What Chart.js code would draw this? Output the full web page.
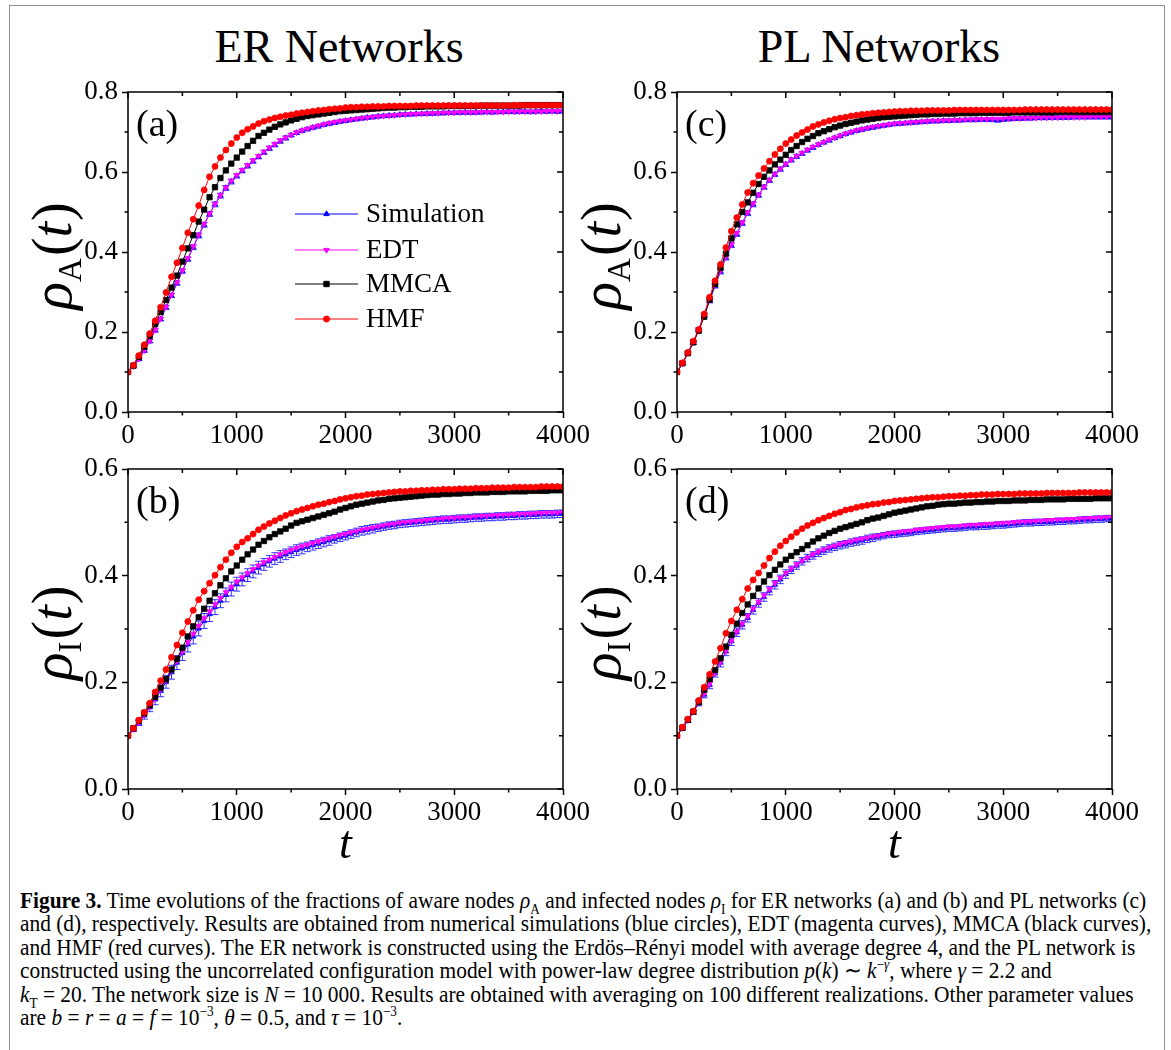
<!DOCTYPE html>
<html>
<head>
<meta charset="utf-8">
<title>Figure 3</title>
<script src="https://cdn.jsdelivr.net/npm/chart.js@4.4.1/dist/chart.umd.min.js"></script>
<style>
    body { margin: 0; background: #fff; }
    #fig { position: relative; width: 1171px; height: 1050px; overflow: hidden; font-family: 'Liberation Serif', serif; color: #000; }
    .frame { position: absolute; left: 9px; top: 5px; width: 1156px; height: 1100px; border: 1px solid #8f8f8f; box-sizing: border-box; }
    .col-title { position: absolute; top: 24px; width: 400px; font-size: 46px; line-height: 46px; text-align: center; }
    canvas { position: absolute; }
    .caption { position: absolute; left: 20px; top: 889px; font-size: 23px; line-height: 23.4px; }
    .caption div { white-space: nowrap; width: max-content; transform-origin: 0 0; }
    .caption sub, .caption sup { font-size: 0.62em; line-height: 0; }
</style>
</head>
<body>
<div id="fig">
    <div class="frame"></div>
    <div class="col-title" style="left:139px">ER Networks</div>
    <div class="col-title" style="left:679px">PL Networks</div>
    <canvas id="panelA"></canvas>
    <canvas id="panelB"></canvas>
    <canvas id="panelC"></canvas>
    <canvas id="panelD"></canvas>
    <div class="caption" id="caption">
        <div><b>Figure 3.</b> Time evolutions of the fractions of aware nodes <i>ρ</i><sub>A</sub> and infected nodes <i>ρ</i><sub>I</sub> for ER networks (a) and (b) and PL networks (c)</div>
        <div>and (d), respectively. Results are obtained from numerical simulations (blue circles), EDT (magenta curves), MMCA (black curves),</div>
        <div>and HMF (red curves). The ER network is constructed using the Erdös–Rényi model with average degree 4, and the PL network is</div>
        <div>constructed using the uncorrelated configuration model with power-law degree distribution <i>p</i>(<i>k</i>) ∼ <i>k</i><sup>−<i>γ</i></sup>, where <i>γ</i> = 2.2 and</div>
        <div><i>k</i><sub>T</sub> = 20. The network size is <i>N</i> = 10 000. Results are obtained with averaging on 100 different realizations. Other parameter values</div>
        <div>are <i>b</i> = <i>r</i> = <i>a</i> = <i>f</i> = 10<sup>−3</sup>, <i>θ</i> = 0.5, and <i>τ</i> = 10<sup>−3</sup>.</div>
    </div>
</div>
<script>
const times = [0, 50, 100, 150, 200, 250, 300, 350, 400, 450,
    500, 550, 600, 650, 700, 750, 800, 850, 900, 950,
    1000, 1050, 1100, 1150, 1200, 1250, 1300, 1350, 1400, 1450,
    1500, 1550, 1600, 1650, 1700, 1750, 1800, 1850, 1900, 1950,
    2000, 2050, 2100, 2150, 2200, 2250, 2300, 2350, 2400, 2450,
    2500, 2550, 2600, 2650, 2700, 2750, 2800, 2850, 2900, 2950,
    3000, 3050, 3100, 3150, 3200, 3250, 3300, 3350, 3400, 3450,
    3500, 3550, 3600, 3650, 3700, 3750, 3800, 3850, 3900, 3950,
    4000];

const seriesNames = ['Simulation', 'EDT', 'MMCA', 'HMF'];
const xTicks = [0, 1000, 2000, 3000, 4000];
const yTicksA = [0.0, 0.2, 0.4, 0.6, 0.8];
const yTicksI = [0.0, 0.2, 0.4, 0.6];

// (a) ER, aware fraction
const simA_ER = [0.100, 0.114, 0.132, 0.153, 0.177, 0.204, 0.232, 0.261, 0.291, 0.322,
    0.352, 0.382, 0.412, 0.441, 0.468, 0.495, 0.519, 0.541, 0.560, 0.576,
    0.590, 0.603, 0.615, 0.627, 0.638, 0.649, 0.659, 0.668, 0.677, 0.685,
    0.692, 0.698, 0.703, 0.707, 0.711, 0.714, 0.718, 0.721, 0.723, 0.726,
    0.728, 0.730, 0.732, 0.734, 0.736, 0.737, 0.739, 0.740, 0.741, 0.742,
    0.743, 0.744, 0.744, 0.745, 0.745, 0.746, 0.746, 0.747, 0.747, 0.748,
    0.748, 0.748, 0.749, 0.748, 0.749, 0.749, 0.750, 0.749, 0.750, 0.750,
    0.751, 0.750, 0.751, 0.751, 0.750, 0.751, 0.752, 0.751, 0.752, 0.751,
    0.752];
const errA_ER = [0.000, 0.002, 0.003, 0.003, 0.004, 0.004, 0.004, 0.005, 0.005, 0.005,
    0.005, 0.005, 0.006, 0.006, 0.006, 0.006, 0.006, 0.006, 0.006, 0.006,
    0.005, 0.005, 0.005, 0.005, 0.005, 0.005, 0.005, 0.005, 0.005, 0.005,
    0.004, 0.004, 0.004, 0.004, 0.004, 0.004, 0.004, 0.004, 0.004, 0.004,
    0.004, 0.004, 0.004, 0.004, 0.004, 0.004, 0.004, 0.004, 0.004, 0.004,
    0.004, 0.004, 0.004, 0.004, 0.004, 0.004, 0.004, 0.004, 0.004, 0.004,
    0.004, 0.004, 0.004, 0.004, 0.004, 0.004, 0.004, 0.004, 0.004, 0.004,
    0.004, 0.004, 0.004, 0.004, 0.004, 0.004, 0.004, 0.004, 0.004, 0.004,
    0.004];
const edtA_ER = [0.100, 0.114, 0.133, 0.154, 0.178, 0.205, 0.233, 0.263, 0.293, 0.324,
    0.354, 0.384, 0.414, 0.443, 0.470, 0.496, 0.520, 0.542, 0.561, 0.578,
    0.592, 0.605, 0.617, 0.629, 0.640, 0.651, 0.661, 0.670, 0.679, 0.686,
    0.693, 0.699, 0.704, 0.708, 0.712, 0.716, 0.719, 0.722, 0.725, 0.727,
    0.729, 0.731, 0.733, 0.735, 0.736, 0.738, 0.739, 0.740, 0.741, 0.742,
    0.743, 0.744, 0.745, 0.745, 0.746, 0.746, 0.747, 0.747, 0.748, 0.748,
    0.748, 0.749, 0.749, 0.749, 0.749, 0.750, 0.750, 0.750, 0.750, 0.750,
    0.751, 0.751, 0.751, 0.751, 0.751, 0.751, 0.751, 0.752, 0.752, 0.752,
    0.752];
const mmcaA_ER = [0.100, 0.116, 0.138, 0.163, 0.190, 0.220, 0.250, 0.280, 0.311, 0.341,
    0.376, 0.409, 0.442, 0.476, 0.506, 0.537, 0.562, 0.585, 0.604, 0.621,
    0.636, 0.651, 0.665, 0.678, 0.690, 0.698, 0.706, 0.713, 0.719, 0.724,
    0.729, 0.733, 0.737, 0.740, 0.742, 0.744, 0.746, 0.748, 0.750, 0.752,
    0.753, 0.754, 0.755, 0.756, 0.757, 0.758, 0.759, 0.760, 0.761, 0.761,
    0.762, 0.762, 0.763, 0.763, 0.763, 0.764, 0.764, 0.764, 0.764, 0.765,
    0.765, 0.765, 0.765, 0.765, 0.765, 0.766, 0.766, 0.766, 0.766, 0.766,
    0.766, 0.766, 0.766, 0.767, 0.767, 0.767, 0.767, 0.767, 0.767, 0.767,
    0.767];
const hmfA_ER = [0.100, 0.117, 0.141, 0.168, 0.196, 0.228, 0.262, 0.299, 0.338, 0.373,
    0.410, 0.448, 0.482, 0.516, 0.555, 0.588, 0.614, 0.636, 0.655, 0.671,
    0.686, 0.698, 0.707, 0.714, 0.721, 0.727, 0.731, 0.735, 0.738, 0.741,
    0.743, 0.746, 0.748, 0.750, 0.752, 0.754, 0.755, 0.757, 0.758, 0.759,
    0.761, 0.762, 0.762, 0.763, 0.763, 0.764, 0.764, 0.764, 0.765, 0.765,
    0.765, 0.765, 0.765, 0.766, 0.766, 0.766, 0.766, 0.766, 0.766, 0.766,
    0.766, 0.766, 0.766, 0.766, 0.766, 0.766, 0.766, 0.766, 0.766, 0.766,
    0.766, 0.767, 0.767, 0.767, 0.767, 0.767, 0.767, 0.767, 0.767, 0.767,
    0.767];

// (b) ER, infected fraction
const simI_ER = [0.100, 0.111, 0.124, 0.138, 0.153, 0.168, 0.184, 0.201, 0.219, 0.237,
    0.255, 0.271, 0.286, 0.301, 0.315, 0.328, 0.341, 0.353, 0.364, 0.375,
    0.384, 0.393, 0.401, 0.408, 0.415, 0.421, 0.427, 0.432, 0.436, 0.440,
    0.444, 0.448, 0.451, 0.454, 0.457, 0.460, 0.463, 0.466, 0.469, 0.472,
    0.475, 0.478, 0.481, 0.484, 0.486, 0.488, 0.490, 0.492, 0.494, 0.495,
    0.497, 0.498, 0.499, 0.500, 0.501, 0.502, 0.503, 0.504, 0.505, 0.505,
    0.506, 0.507, 0.507, 0.508, 0.509, 0.509, 0.510, 0.510, 0.511, 0.511,
    0.512, 0.512, 0.513, 0.513, 0.514, 0.514, 0.515, 0.515, 0.515, 0.516,
    0.516];
const errI_ER = [0.000, 0.003, 0.005, 0.007, 0.008, 0.010, 0.011, 0.012, 0.013, 0.013,
    0.014, 0.014, 0.014, 0.014, 0.014, 0.014, 0.014, 0.013, 0.013, 0.013,
    0.013, 0.012, 0.012, 0.012, 0.012, 0.011, 0.011, 0.011, 0.011, 0.010,
    0.010, 0.010, 0.010, 0.009, 0.009, 0.009, 0.009, 0.009, 0.008, 0.008,
    0.008, 0.008, 0.008, 0.008, 0.008, 0.008, 0.007, 0.007, 0.007, 0.007,
    0.007, 0.007, 0.007, 0.007, 0.007, 0.007, 0.007, 0.007, 0.007, 0.007,
    0.007, 0.007, 0.007, 0.007, 0.007, 0.007, 0.007, 0.007, 0.007, 0.007,
    0.007, 0.007, 0.007, 0.007, 0.007, 0.007, 0.007, 0.007, 0.007, 0.007,
    0.007];
const edtI_ER = [0.100, 0.112, 0.125, 0.139, 0.154, 0.170, 0.187, 0.204, 0.222, 0.240,
    0.258, 0.275, 0.291, 0.306, 0.320, 0.333, 0.346, 0.358, 0.369, 0.379,
    0.389, 0.397, 0.405, 0.412, 0.419, 0.425, 0.430, 0.435, 0.440, 0.444,
    0.448, 0.452, 0.455, 0.458, 0.461, 0.464, 0.467, 0.470, 0.473, 0.476,
    0.478, 0.481, 0.483, 0.486, 0.488, 0.490, 0.492, 0.494, 0.496, 0.497,
    0.499, 0.500, 0.501, 0.502, 0.503, 0.504, 0.505, 0.506, 0.507, 0.508,
    0.508, 0.509, 0.510, 0.510, 0.511, 0.512, 0.512, 0.513, 0.513, 0.514,
    0.514, 0.515, 0.515, 0.516, 0.516, 0.517, 0.517, 0.518, 0.518, 0.518,
    0.519];
const mmcaI_ER = [0.100, 0.114, 0.128, 0.142, 0.157, 0.173, 0.190, 0.206, 0.224, 0.244,
    0.265, 0.286, 0.305, 0.322, 0.338, 0.353, 0.367, 0.382, 0.395, 0.408,
    0.419, 0.430, 0.440, 0.449, 0.458, 0.465, 0.472, 0.478, 0.483, 0.488,
    0.494, 0.499, 0.502, 0.505, 0.508, 0.511, 0.514, 0.517, 0.520, 0.524,
    0.527, 0.530, 0.533, 0.535, 0.537, 0.539, 0.541, 0.542, 0.544, 0.545,
    0.546, 0.547, 0.548, 0.549, 0.550, 0.551, 0.552, 0.552, 0.553, 0.553,
    0.554, 0.554, 0.555, 0.555, 0.556, 0.556, 0.556, 0.557, 0.557, 0.557,
    0.558, 0.558, 0.558, 0.558, 0.559, 0.559, 0.559, 0.559, 0.560, 0.560,
    0.560];
const hmfI_ER = [0.100, 0.114, 0.129, 0.144, 0.161, 0.182, 0.203, 0.224, 0.247, 0.270,
    0.293, 0.314, 0.335, 0.355, 0.371, 0.386, 0.401, 0.416, 0.430, 0.443,
    0.454, 0.463, 0.470, 0.478, 0.486, 0.492, 0.498, 0.503, 0.508, 0.513,
    0.517, 0.521, 0.524, 0.527, 0.530, 0.533, 0.535, 0.538, 0.540, 0.543,
    0.545, 0.547, 0.549, 0.550, 0.552, 0.553, 0.554, 0.555, 0.556, 0.557,
    0.558, 0.558, 0.559, 0.559, 0.560, 0.560, 0.561, 0.561, 0.562, 0.562,
    0.562, 0.563, 0.563, 0.563, 0.564, 0.564, 0.564, 0.565, 0.565, 0.565,
    0.565, 0.566, 0.566, 0.566, 0.566, 0.566, 0.567, 0.567, 0.567, 0.567,
    0.567];

// (c) PL, aware fraction
const simA_PL = [0.100, 0.120, 0.147, 0.173, 0.206, 0.242, 0.278, 0.315, 0.351, 0.386,
    0.417, 0.445, 0.472, 0.497, 0.519, 0.542, 0.562, 0.579, 0.594, 0.607,
    0.619, 0.630, 0.639, 0.646, 0.654, 0.661, 0.668, 0.674, 0.679, 0.685,
    0.690, 0.695, 0.699, 0.703, 0.706, 0.709, 0.711, 0.714, 0.716, 0.718,
    0.720, 0.721, 0.722, 0.723, 0.724, 0.725, 0.726, 0.727, 0.727, 0.728,
    0.728, 0.729, 0.729, 0.730, 0.730, 0.730, 0.731, 0.731, 0.730, 0.729,
    0.731, 0.732, 0.733, 0.733, 0.734, 0.734, 0.735, 0.735, 0.735, 0.736,
    0.736, 0.736, 0.736, 0.737, 0.737, 0.737, 0.737, 0.737, 0.737, 0.737,
    0.737];
const errA_PL = [0.000, 0.002, 0.003, 0.004, 0.004, 0.005, 0.005, 0.005, 0.006, 0.006,
    0.006, 0.006, 0.006, 0.006, 0.006, 0.005, 0.005, 0.005, 0.005, 0.005,
    0.005, 0.005, 0.005, 0.004, 0.004, 0.004, 0.004, 0.004, 0.004, 0.004,
    0.004, 0.004, 0.004, 0.004, 0.004, 0.004, 0.004, 0.004, 0.004, 0.004,
    0.004, 0.004, 0.004, 0.004, 0.004, 0.004, 0.004, 0.004, 0.004, 0.004,
    0.004, 0.004, 0.004, 0.004, 0.004, 0.004, 0.004, 0.004, 0.004, 0.004,
    0.004, 0.004, 0.004, 0.004, 0.004, 0.004, 0.004, 0.004, 0.004, 0.004,
    0.004, 0.004, 0.004, 0.004, 0.004, 0.004, 0.004, 0.004, 0.004, 0.004,
    0.004];
const edtA_PL = [0.100, 0.121, 0.148, 0.175, 0.207, 0.243, 0.280, 0.317, 0.353, 0.388,
    0.419, 0.447, 0.474, 0.499, 0.521, 0.543, 0.563, 0.580, 0.595, 0.608,
    0.620, 0.631, 0.640, 0.648, 0.656, 0.663, 0.669, 0.675, 0.681, 0.686,
    0.691, 0.696, 0.700, 0.704, 0.707, 0.710, 0.713, 0.715, 0.717, 0.719,
    0.721, 0.722, 0.723, 0.724, 0.725, 0.726, 0.727, 0.728, 0.728, 0.729,
    0.729, 0.730, 0.730, 0.731, 0.731, 0.732, 0.732, 0.732, 0.733, 0.733,
    0.733, 0.734, 0.734, 0.734, 0.735, 0.735, 0.735, 0.736, 0.736, 0.736,
    0.736, 0.737, 0.737, 0.737, 0.737, 0.737, 0.738, 0.738, 0.738, 0.738,
    0.738];
const mmcaA_PL = [0.100, 0.122, 0.147, 0.174, 0.203, 0.238, 0.281, 0.320, 0.360, 0.396,
    0.434, 0.469, 0.500, 0.524, 0.548, 0.570, 0.588, 0.604, 0.619, 0.631,
    0.643, 0.655, 0.665, 0.675, 0.683, 0.690, 0.697, 0.702, 0.707, 0.712,
    0.716, 0.720, 0.723, 0.726, 0.729, 0.731, 0.733, 0.735, 0.737, 0.738,
    0.739, 0.740, 0.741, 0.742, 0.743, 0.744, 0.744, 0.745, 0.745, 0.746,
    0.746, 0.746, 0.747, 0.747, 0.747, 0.747, 0.748, 0.748, 0.748, 0.748,
    0.748, 0.748, 0.749, 0.749, 0.749, 0.749, 0.749, 0.749, 0.749, 0.749,
    0.750, 0.750, 0.750, 0.750, 0.750, 0.750, 0.750, 0.750, 0.750, 0.750,
    0.750];
const hmfA_PL = [0.100, 0.123, 0.149, 0.177, 0.206, 0.245, 0.287, 0.328, 0.369, 0.411,
    0.452, 0.486, 0.519, 0.549, 0.572, 0.591, 0.609, 0.627, 0.644, 0.658,
    0.671, 0.681, 0.691, 0.699, 0.706, 0.714, 0.719, 0.724, 0.728, 0.732,
    0.735, 0.737, 0.740, 0.742, 0.744, 0.745, 0.747, 0.748, 0.749, 0.750,
    0.751, 0.752, 0.752, 0.753, 0.753, 0.753, 0.754, 0.754, 0.754, 0.754,
    0.754, 0.755, 0.755, 0.755, 0.755, 0.755, 0.755, 0.755, 0.755, 0.755,
    0.755, 0.755, 0.755, 0.755, 0.756, 0.756, 0.756, 0.756, 0.756, 0.756,
    0.756, 0.756, 0.756, 0.756, 0.756, 0.756, 0.756, 0.756, 0.756, 0.756,
    0.756];

// (d) PL, infected fraction
const simI_PL = [0.100, 0.113, 0.128, 0.144, 0.161, 0.177, 0.195, 0.217, 0.237, 0.258,
    0.277, 0.294, 0.308, 0.321, 0.336, 0.349, 0.360, 0.372, 0.383, 0.393,
    0.403, 0.411, 0.419, 0.427, 0.433, 0.438, 0.443, 0.447, 0.451, 0.454,
    0.457, 0.459, 0.462, 0.464, 0.466, 0.469, 0.471, 0.473, 0.475, 0.477,
    0.478, 0.479, 0.480, 0.481, 0.483, 0.484, 0.485, 0.486, 0.487, 0.488,
    0.489, 0.489, 0.490, 0.491, 0.492, 0.492, 0.493, 0.493, 0.494, 0.495,
    0.495, 0.496, 0.497, 0.498, 0.499, 0.499, 0.500, 0.500, 0.501, 0.501,
    0.502, 0.502, 0.503, 0.503, 0.504, 0.505, 0.505, 0.506, 0.506, 0.507,
    0.507];
const errI_PL = [0.000, 0.002, 0.003, 0.004, 0.005, 0.006, 0.007, 0.007, 0.008, 0.008,
    0.008, 0.008, 0.008, 0.008, 0.008, 0.008, 0.008, 0.008, 0.008, 0.008,
    0.008, 0.007, 0.007, 0.007, 0.007, 0.007, 0.007, 0.007, 0.007, 0.007,
    0.007, 0.007, 0.007, 0.007, 0.007, 0.007, 0.007, 0.006, 0.006, 0.006,
    0.006, 0.006, 0.006, 0.006, 0.006, 0.006, 0.006, 0.006, 0.006, 0.006,
    0.006, 0.006, 0.006, 0.006, 0.006, 0.006, 0.006, 0.006, 0.006, 0.006,
    0.006, 0.006, 0.006, 0.006, 0.006, 0.006, 0.006, 0.006, 0.006, 0.006,
    0.006, 0.006, 0.006, 0.006, 0.006, 0.006, 0.006, 0.006, 0.006, 0.006,
    0.006];
const edtI_PL = [0.100, 0.114, 0.129, 0.145, 0.162, 0.179, 0.197, 0.218, 0.238, 0.259,
    0.278, 0.295, 0.310, 0.324, 0.338, 0.351, 0.363, 0.375, 0.386, 0.396,
    0.405, 0.413, 0.421, 0.428, 0.434, 0.440, 0.445, 0.449, 0.453, 0.456,
    0.459, 0.462, 0.464, 0.467, 0.469, 0.471, 0.473, 0.475, 0.477, 0.479,
    0.480, 0.482, 0.483, 0.484, 0.486, 0.487, 0.488, 0.489, 0.490, 0.491,
    0.492, 0.492, 0.493, 0.494, 0.495, 0.495, 0.496, 0.497, 0.497, 0.498,
    0.499, 0.499, 0.500, 0.501, 0.501, 0.502, 0.502, 0.503, 0.504, 0.504,
    0.505, 0.505, 0.506, 0.506, 0.507, 0.507, 0.508, 0.508, 0.509, 0.509,
    0.510];
const mmcaI_PL = [0.100, 0.115, 0.130, 0.145, 0.163, 0.186, 0.206, 0.223, 0.245, 0.267,
    0.289, 0.310, 0.330, 0.346, 0.362, 0.376, 0.389, 0.401, 0.411, 0.421,
    0.430, 0.437, 0.444, 0.450, 0.457, 0.464, 0.470, 0.475, 0.480, 0.484,
    0.488, 0.491, 0.494, 0.497, 0.500, 0.504, 0.507, 0.509, 0.512, 0.515,
    0.518, 0.520, 0.522, 0.524, 0.526, 0.528, 0.530, 0.531, 0.533, 0.534,
    0.535, 0.535, 0.536, 0.537, 0.537, 0.538, 0.538, 0.539, 0.539, 0.540,
    0.540, 0.540, 0.541, 0.541, 0.541, 0.542, 0.542, 0.542, 0.543, 0.543,
    0.543, 0.543, 0.544, 0.544, 0.544, 0.544, 0.544, 0.545, 0.545, 0.545,
    0.545];
const hmfI_PL = [0.100, 0.116, 0.131, 0.146, 0.166, 0.191, 0.215, 0.239, 0.264, 0.292,
    0.315, 0.336, 0.356, 0.376, 0.392, 0.405, 0.419, 0.433, 0.445, 0.456,
    0.465, 0.473, 0.481, 0.488, 0.494, 0.499, 0.504, 0.508, 0.512, 0.516,
    0.519, 0.523, 0.525, 0.528, 0.530, 0.532, 0.534, 0.535, 0.537, 0.538,
    0.540, 0.541, 0.542, 0.543, 0.544, 0.545, 0.546, 0.547, 0.547, 0.548,
    0.549, 0.549, 0.550, 0.550, 0.551, 0.551, 0.552, 0.552, 0.552, 0.553,
    0.553, 0.553, 0.553, 0.554, 0.554, 0.554, 0.554, 0.554, 0.555, 0.555,
    0.555, 0.555, 0.555, 0.555, 0.556, 0.556, 0.556, 0.556, 0.556, 0.556,
    0.556];

const SERIF = "'Liberation Serif', 'Times New Roman', serif";
const PLOT_W = 435;
const PLOT_H = 320;
const AXIS_W = 108;
const PAD_TOP = 22;
const PAD_RIGHT = 30;

// style of each series, in legend order
const seriesStyle = [
    { color: '#0000ff', pointStyle: 'triangle', radius: 3.2, rotation: 0 },
    { color: '#ff00ff', pointStyle: 'triangle', radius: 3.2, rotation: 180 },
    { color: '#000000', pointStyle: 'rect', radius: 3.8, rotation: 0 },
    { color: '#ff0000', pointStyle: 'circle', radius: 3, rotation: 0 }
];

const panels = {
    panelA: { left: 128, top: 92, label: '(a)', sub: 'A', yTicks: yTicksA, xTitle: false, legend: true,
        series: [simA_ER, edtA_ER, mmcaA_ER, hmfA_ER], errors: errA_ER },
    panelB: { left: 128, top: 469, label: '(b)', sub: 'I', yTicks: yTicksI, xTitle: true, legend: false,
        series: [simI_ER, edtI_ER, mmcaI_ER, hmfI_ER], errors: errI_ER },
    panelC: { left: 677, top: 92, label: '(c)', sub: 'A', yTicks: yTicksA, xTitle: false, legend: false,
        series: [simA_PL, edtA_PL, mmcaA_PL, hmfA_PL], errors: errA_PL },
    panelD: { left: 677, top: 469, label: '(d)', sub: 'I', yTicks: yTicksI, xTitle: true, legend: false,
        series: [simI_PL, edtI_PL, mmcaI_PL, hmfI_PL], errors: errI_PL }
};

const paperPlugin = {
    id: 'paper',
    afterDatasetDraw(chart, args) {
        const panel = panels[chart.canvas.id];
        if (!panel || args.index !== 0) return;
        drawErrorBars(chart, panel);
    },
    afterDraw(chart) {
        const panel = panels[chart.canvas.id];
        if (!panel) return;
        drawFrameAndTicks(chart);
        drawTexts(chart, panel);
        if (panel.legend) drawLegend(chart);
    }
};

document.addEventListener('DOMContentLoaded', function () {
    Chart.register(paperPlugin);
    Object.keys(panels).forEach(id => buildPanel(id, panels[id]));
    fitCaption();
});

function buildPanel(id, panel) {
    const canvas = document.getElementById(id);
    const xAxisH = panel.xTitle ? 92 : 43;
    canvas.width = AXIS_W + PLOT_W + PAD_RIGHT;
    canvas.height = PAD_TOP + PLOT_H + xAxisH;
    canvas.style.left = (panel.left - AXIS_W) + 'px';
    canvas.style.top = (panel.top - PAD_TOP) + 'px';

    const yMax = panel.yTicks[panel.yTicks.length - 1];
    const tickFont = { family: SERIF, size: 27 };

    const datasets = seriesNames.map((name, i) => ({
        label: name,
        data: panel.series[i],
        order: 4 - i,
        borderColor: seriesStyle[i].color,
        backgroundColor: seriesStyle[i].color,
        borderWidth: 1,
        pointStyle: seriesStyle[i].pointStyle,
        pointRotation: seriesStyle[i].rotation,
        pointRadius: seriesStyle[i].radius,
        pointBackgroundColor: seriesStyle[i].color,
        pointBorderColor: seriesStyle[i].color,
        pointBorderWidth: 0.8,
        tension: 0
    }));

    new Chart(canvas, {
        type: 'line',
        data: { labels: times, datasets },
        options: {
            responsive: false,
            animation: false,
            events: [],
            layout: { padding: { top: PAD_TOP, right: PAD_RIGHT, left: 0, bottom: 0 } },
            plugins: { legend: { display: false }, tooltip: { enabled: false } },
            scales: {
                x: {
                    type: 'linear',
                    min: xTicks[0],
                    max: xTicks[xTicks.length - 1],
                    afterFit: scale => { scale.height = xAxisH; },
                    afterBuildTicks: scale => { scale.ticks = xTicks.map(v => ({ value: v })); },
                    ticks: { color: '#000', font: tickFont, padding: 2, maxRotation: 0, autoSkip: false,
                        callback: v => String(v) },
                    grid: { drawOnChartArea: false, drawTicks: true, tickLength: 6, tickWidth: 1.5, tickColor: '#000' },
                    border: { display: false }
                },
                y: {
                    type: 'linear',
                    min: 0,
                    max: yMax,
                    afterFit: scale => { scale.width = AXIS_W; },
                    afterBuildTicks: scale => { scale.ticks = panel.yTicks.map(v => ({ value: v })); },
                    ticks: { color: '#000', font: tickFont, padding: 4, callback: v => v.toFixed(1) },
                    grid: { drawOnChartArea: false, drawTicks: true, tickLength: 6, tickWidth: 1.5, tickColor: '#000' },
                    border: { display: false }
                }
            }
        }
    });
}

function drawErrorBars(chart, panel) {
    const ctx = chart.ctx;
    const area = chart.chartArea;
    const meta = chart.getDatasetMeta(0);
    const values = panel.series[0];
    const ys = chart.scales.y;

    ctx.save();
    ctx.beginPath();
    ctx.rect(area.left, area.top, area.right - area.left, area.bottom - area.top);
    ctx.clip();
    ctx.strokeStyle = 'rgba(20,20,255,0.85)';
    ctx.lineWidth = 1;
    meta.data.forEach((pt, i) => {
        const e = panel.errors[i];
        if (!e) return;
        const y1 = ys.getPixelForValue(values[i] - e);
        const y2 = ys.getPixelForValue(values[i] + e);
        ctx.beginPath();
        ctx.moveTo(pt.x, y1);
        ctx.lineTo(pt.x, y2);
        ctx.moveTo(pt.x - 3.5, y1);
        ctx.lineTo(pt.x + 3.5, y1);
        ctx.moveTo(pt.x - 3.5, y2);
        ctx.lineTo(pt.x + 3.5, y2);
        ctx.stroke();
    });
    ctx.restore();
}

function drawFrameAndTicks(chart) {
    const ctx = chart.ctx;
    const { left, right, top, bottom } = chart.chartArea;
    const xs = chart.scales.x;
    const ys = chart.scales.y;

    ctx.save();
    ctx.strokeStyle = '#000';
    ctx.lineWidth = 1.5;
    ctx.strokeRect(left, top, right - left, bottom - top);

    ctx.beginPath();
    // x: minor ticks every 500 below the axis, all ticks mirrored inside at the top
    for (let v = xs.min; v <= xs.max; v += 500) {
        const x = xs.getPixelForValue(v);
        const major = v % 1000 === 0;
        if (!major) {
            ctx.moveTo(x, bottom);
            ctx.lineTo(x, bottom + 3.5);
        }
        ctx.moveTo(x, top);
        ctx.lineTo(x, top + (major ? 6 : 4));
    }
    // y: minor ticks every 0.1 left of the axis, all ticks mirrored inside at the right
    const steps = Math.round(ys.max * 10);
    for (let k = 0; k <= steps; k++) {
        const y = ys.getPixelForValue(k / 10);
        const major = k % 2 === 0;
        if (!major) {
            ctx.moveTo(left, y);
            ctx.lineTo(left - 3.5, y);
        }
        ctx.moveTo(right, y);
        ctx.lineTo(right - (major ? 6 : 4), y);
    }
    ctx.stroke();
    ctx.restore();
}

function drawTexts(chart, panel) {
    const ctx = chart.ctx;
    const { left, right, top, bottom } = chart.chartArea;

    ctx.save();
    ctx.fillStyle = '#000';
    ctx.textBaseline = 'alphabetic';

    // panel letter
    ctx.font = '38px ' + SERIF;
    ctx.textAlign = 'left';
    ctx.fillText(panel.label, left + 8, top + 44);

    // y title, rotated: rho_sub(t), kept left of the tick labels
    const parts = [
        { text: 'ρ', font: 'italic 58px ' + SERIF, dy: 0, gap: 0 },
        { text: panel.sub, font: '33px ' + SERIF, dy: 10, gap: 2 },
        { text: '(', font: '56px ' + SERIF, dy: 0, gap: 0 },
        { text: 't', font: 'italic 56px ' + SERIF, dy: 0, gap: 1 },
        { text: ')', font: '56px ' + SERIF, dy: 0, gap: 0 }
    ];
    let total = 0;
    parts.forEach(p => { ctx.font = p.font; p.w = ctx.measureText(p.text).width + p.gap; total += p.w; });
    ctx.translate(left - 57, (top + bottom) / 2 + 4);
    ctx.rotate(-Math.PI / 2);
    let pos = -total / 2;
    parts.forEach(p => {
        ctx.font = p.font;
        ctx.fillText(p.text, pos, p.dy);
        pos += p.w;
    });
    ctx.setTransform(1, 0, 0, 1, 0, 0);

    if (panel.xTitle) {
        ctx.font = 'italic 46px ' + SERIF;
        ctx.textAlign = 'center';
        ctx.fillText('t', (left + right) / 2, bottom + 69);
    }
    ctx.restore();
}

function drawLegend(chart) {
    const ctx = chart.ctx;
    const { left, top } = chart.chartArea;
    const rows = [122, 158, 192, 227];

    ctx.save();
    chart.data.datasets.forEach((ds, i) => {
        const y = top + rows[i];
        const style = seriesStyle[i];
        ctx.strokeStyle = style.color;
        ctx.lineWidth = 1;
        ctx.beginPath();
        ctx.moveTo(left + 167, y);
        ctx.lineTo(left + 230, y);
        ctx.stroke();
        ctx.fillStyle = style.color;
        ctx.strokeStyle = style.color;
        Chart.helpers.drawPoint(ctx, {
            pointStyle: style.pointStyle,
            radius: style.radius,
            rotation: style.rotation,
            borderWidth: 0.8
        }, left + 198.5, y);
        ctx.fillStyle = '#000';
        ctx.font = '27px ' + SERIF;
        ctx.textAlign = 'left';
        ctx.textBaseline = 'middle';
        ctx.fillText(ds.label, left + 238, y + 1);
    });
    ctx.restore();
}

function fitCaption() {
    const lines = document.querySelectorAll('#caption div');
    const natural = lines[1].offsetWidth;
    const scale = 1131 / natural;
    lines.forEach(line => { line.style.transform = 'scaleX(' + scale.toFixed(4) + ')'; });
}
</script>
</body>
</html>
